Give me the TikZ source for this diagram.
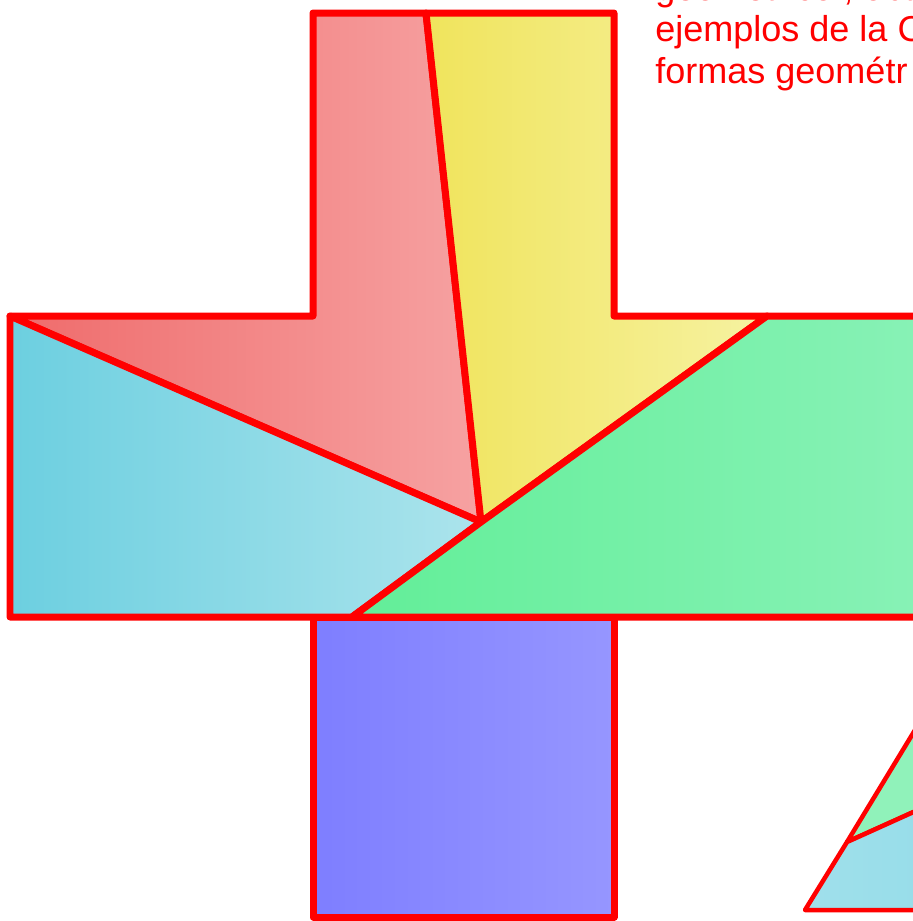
\documentclass[tikz,border=0pt]{standalone}
\usepackage{fontspec}
\setmainfont{Liberation Sans}
\definecolor{edgered}{HTML}{FF0000}
\definecolor{rosedark}{HTML}{EF6B6B}
\definecolor{roselight}{HTML}{F6A2A2}
\definecolor{lemondark}{HTML}{F0E45C}
\definecolor{lemonlight}{HTML}{F6F2A2}
\definecolor{skydark}{HTML}{6CCFE0}
\definecolor{skylight}{HTML}{ACE4EC}
\definecolor{mintdark}{HTML}{62EE98}
\definecolor{mintlight}{HTML}{B6F8D4}
\definecolor{mintmid}{HTML}{8AF2B8}
\definecolor{violetdark}{HTML}{7E7EFF}
\definecolor{violetlight}{HTML}{9696FF}
\definecolor{trimint}{HTML}{90F2BA}
\definecolor{trisky}{HTML}{88D8E6}
\begin{document}
\begin{tikzpicture}[
  x=0.02cm, y=-0.02cm,
  piece/.style={draw=edgered, line width=0.14cm, line join=round},
  smallpiece/.style={draw=edgered, line width=0.09cm, line join=round},
  caption/.style={text=edgered, font=\fontsize{20.5}{23.4}\selectfont,
    align=left, inner sep=0pt, anchor=base west}
]
\useasboundingbox (0,0) rectangle (913,921);
\clip (0,0) rectangle (913,921);
% corner points of the cross
\coordinate (tl) at (313,13);
\coordinate (tm) at (426,13);
\coordinate (tr) at (614,13);
\coordinate (ml) at (10,316);
\coordinate (mi) at (313,316);
\coordinate (mr) at (614,316);
\coordinate (mg) at (767,316);
\coordinate (cen) at (481,522);
\coordinate (bl) at (10,617);
\coordinate (bc) at (352,617);
\coordinate (er) at (960,316);
\coordinate (eb) at (960,617);
% pieces
\path[piece, left color=rosedark, right color=roselight]
  (tl) -- (tm) -- (cen) -- (ml) -- (mi) -- cycle;
\path[piece, left color=lemondark, right color=lemonlight]
  (tm) -- (tr) -- (mr) -- (mg) -- (cen) -- cycle;
\path[piece, left color=skydark, right color=skylight]
  (ml) -- (cen) -- (bc) -- (bl) -- cycle;
\path[piece, left color=mintdark, middle color=mintlight, right color=mintmid]
  (mg) -- (er) -- (eb) -- (bc) -- (cen) -- cycle;
\path[piece, left color=violetdark, right color=violetlight]
  (313,617) rectangle (614,917);
% triangle at the lower right
\coordinate (ta) at (805,910);
\coordinate (tb) at (1000,590);
\coordinate (tc) at (1150,910);
\coordinate (tk) at (847,842);
\coordinate (tn) at (1000,773);
\path[smallpiece, fill=trimint] (tk) -- (tb) -- (tn) -- cycle;
\path[smallpiece, left color=trisky!80!white, right color=trisky]
  (ta) -- (tk) -- (tn) -- (tc) -- cycle;
% text
\node[caption] (note) at (655,83)
  {geométrico , obte\\ejemplos de la C\\formas geométr};
\end{tikzpicture}
\end{document}
